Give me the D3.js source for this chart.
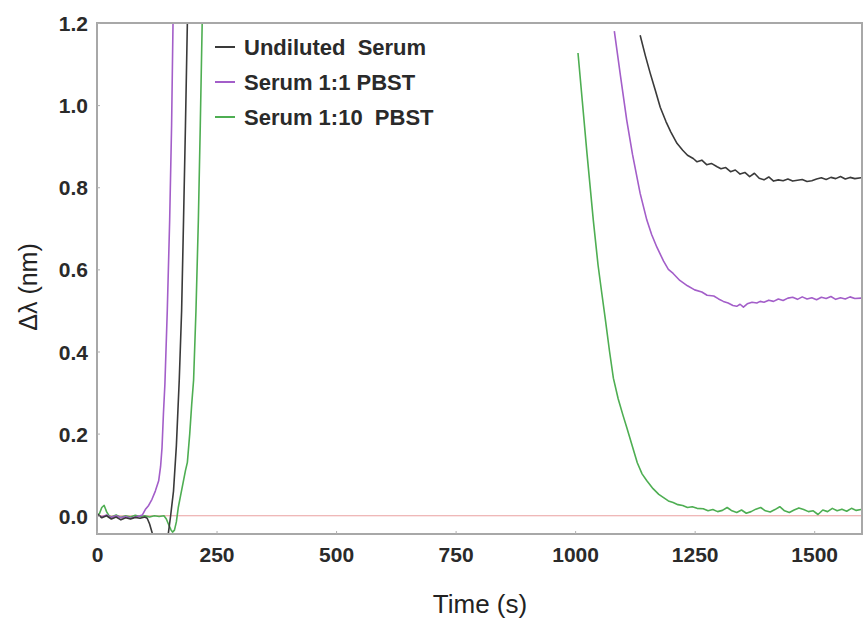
<!DOCTYPE html>
<html><head><meta charset="utf-8">
<script src="https://cdn.jsdelivr.net/npm/d3@7"></script>
<style>
body{margin:0;background:#fff;}
text{font-family:"Liberation Sans",Arial,sans-serif;}
</style></head>
<body><svg id="c" width="867" height="620"></svg>
<script>
// ---- data ----
const xTicks = [0,250,500,750,1000,1250,1500];
const yTicks = [0.0,0.2,0.4,0.6,0.8,1.0,1.2];
const seriesNames = ["Undiluted  Serum","Serum 1:1 PBST","Serum 1:10  PBST"];
const seriesColors = ["#3a3a3a","#a35ec9","#4eae52"];

const undilutedInjection = [[0,0.005],[5,0.0],[10,-0.005],[20,0.0],[30,-0.008],[40,-0.003],[50,-0.01],[60,-0.005],[70,-0.008],[80,-0.004],[90,-0.006],[100,-0.003],[105,-0.006],[110,-0.02],[115,-0.04],[120,-0.07],[130,-0.1],[140,-0.09],[149,-0.045],[154,0.0],[160,0.06],[166,0.17],[172,0.33],[177,0.5],[181,0.72],[185,0.95],[189,1.2],[191,1.3]];
const undilutedRinse = [[1136,1.17],[1147,1.12],[1157,1.078],[1168,1.035],[1178,0.995],[1190,0.96],[1200,0.935],[1213,0.907],[1225,0.89],[1235,0.878],[1247,0.87],[1255,0.862],[1265,0.866],[1275,0.855],[1285,0.858],[1297,0.85],[1305,0.845],[1315,0.848],[1325,0.838],[1335,0.842],[1345,0.832],[1355,0.836],[1365,0.826],[1375,0.834],[1385,0.822],[1395,0.818],[1405,0.825],[1415,0.815],[1425,0.818],[1435,0.816],[1445,0.82],[1455,0.815],[1465,0.817],[1475,0.819],[1485,0.814],[1495,0.816],[1505,0.82],[1515,0.823],[1525,0.819],[1535,0.824],[1545,0.821],[1555,0.826],[1565,0.82],[1575,0.824],[1585,0.821],[1598,0.823]];

const serum11Injection = [[0,0.003],[10,-0.003],[20,0.002],[30,-0.004],[40,0.0],[50,-0.005],[60,-0.002],[70,-0.006],[80,-0.003],[90,0.0],[95,0.002],[101,0.015],[108,0.025],[115,0.04],[122,0.06],[129,0.085],[133,0.12],[136,0.166],[139,0.25],[142,0.32],[147,0.5],[152,0.72],[156,0.95],[159,1.2],[161,1.3]];
const serum11Rinse = [[1082,1.18],[1095,1.07],[1108,0.963],[1120,0.88],[1136,0.785],[1150,0.72],[1160,0.685],[1171,0.654],[1185,0.62],[1195,0.6],[1205,0.59],[1219,0.573],[1235,0.56],[1250,0.55],[1265,0.545],[1276,0.537],[1290,0.535],[1300,0.528],[1310,0.522],[1320,0.518],[1330,0.512],[1338,0.51],[1345,0.515],[1352,0.508],[1360,0.516],[1370,0.52],[1380,0.518],[1387,0.522],[1395,0.52],[1405,0.525],[1415,0.522],[1425,0.528],[1435,0.524],[1445,0.53],[1455,0.532],[1465,0.527],[1475,0.533],[1485,0.528],[1495,0.531],[1505,0.526],[1515,0.532],[1525,0.529],[1535,0.534],[1545,0.527],[1555,0.531],[1565,0.528],[1575,0.533],[1585,0.529],[1598,0.53]];

const serum110Injection = [[0,0.0],[5,0.005],[10,0.02],[15,0.025],[20,0.01],[25,0.0],[30,-0.003],[40,0.002],[50,-0.004],[60,0.0],[70,-0.003],[80,0.001],[90,-0.002],[100,0.0],[110,-0.003],[120,0.0],[130,-0.002],[140,0.0],[145,-0.008],[150,-0.022],[155,-0.035],[158,-0.04],[162,-0.035],[166,-0.015],[170,0.02],[175,0.05],[180,0.08],[185,0.11],[189,0.13],[194,0.2],[198,0.27],[202,0.33],[207,0.5],[212,0.72],[216,0.95],[220,1.2],[222,1.3]];
const serum110Rinse = [[1006,1.127],[1015,1.01],[1025,0.88],[1038,0.72],[1048,0.61],[1056,0.54],[1063,0.48],[1072,0.4],[1080,0.335],[1090,0.285],[1100,0.245],[1108,0.215],[1120,0.168],[1130,0.129],[1140,0.102],[1150,0.085],[1163,0.066],[1175,0.052],[1185,0.044],[1195,0.036],[1205,0.032],[1215,0.027],[1225,0.025],[1235,0.02],[1245,0.022],[1255,0.018],[1268,0.017],[1278,0.012],[1288,0.015],[1298,0.01],[1308,0.013],[1318,0.02],[1328,0.012],[1338,0.008],[1348,0.014],[1358,0.006],[1368,0.01],[1378,0.016],[1388,0.02],[1398,0.012],[1408,0.009],[1418,0.015],[1428,0.022],[1438,0.012],[1448,0.008],[1458,0.014],[1468,0.019],[1478,0.015],[1488,0.01],[1498,0.012],[1508,0.003],[1518,0.014],[1528,0.01],[1538,0.018],[1548,0.012],[1558,0.016],[1568,0.011],[1578,0.018],[1588,0.013],[1598,0.015]];

const seriesParts = [
  [undilutedInjection, undilutedRinse],
  [serum11Injection, serum11Rinse],
  [serum110Injection, serum110Rinse]
];

// ---- layout ----
const L = 97, R = 862, T = 23, B = 534;
const svg = d3.select("#c");
const x = d3.scaleLinear().domain([0,1600]).range([L,R]);
const y = d3.scaleLinear().domain([-0.0445,1.2]).range([B,T]);

svg.append("defs").append("clipPath").attr("id","clip")
  .append("rect").attr("x",L).attr("y",T).attr("width",R-L).attr("height",B-T);

// zero reference line
svg.append("line").attr("x1",L).attr("x2",R).attr("y1",y(0)).attr("y2",y(0))
  .attr("stroke","#eaa0a0").attr("stroke-width",1.2);

const line = d3.line().x(d=>x(d[0])).y(d=>y(d[1]));
const g = svg.append("g").attr("clip-path","url(#clip)");
[2,1,0].forEach(i=>{
  seriesParts[i].forEach(part=>{
    g.append("path").datum(part).attr("d",line).attr("fill","none")
      .attr("stroke",seriesColors[i]).attr("stroke-width",1.6).attr("stroke-linejoin","round");
  });
});

// frame
svg.append("rect").attr("x",L).attr("y",T).attr("width",R-L).attr("height",B-T)
  .attr("fill","none").attr("stroke","#a8a8a8").attr("stroke-width",2);

// axes
const xAxis = d3.axisBottom(x).tickValues(xTicks).tickSize(-3).tickPadding(13).tickFormat(d3.format("d"));
const yAxis = d3.axisLeft(y).tickValues(yTicks).tickSize(-3).tickPadding(9).tickFormat(d3.format(".1f"));
const gx = svg.append("g").attr("transform",`translate(0,${B})`).call(xAxis);
const gy = svg.append("g").attr("transform",`translate(${L},0)`).call(yAxis);
[gx,gy].forEach(a=>{
  a.select(".domain").remove();
  a.selectAll(".tick line").attr("stroke","#b0b0b0");
  a.selectAll("text").attr("font-size",21).attr("font-weight","bold").attr("fill","#2a2a2a")
    .attr("font-family","'Liberation Sans',Arial,sans-serif");
});
gy.selectAll(".tick text").attr("dy","0.36em");

// axis titles
svg.append("text").attr("x",480).attr("y",613).attr("text-anchor","middle")
  .attr("font-size",26).attr("fill","#222").text("Time (s)");
svg.append("text").attr("transform","translate(37,287) rotate(-90)").attr("text-anchor","middle")
  .attr("font-size",25).attr("fill","#222").text("Δλ (nm)");

// legend
const lg = svg.append("g");
seriesNames.forEach((n,i)=>{
  const yy = 47 + i*35;
  lg.append("line").attr("x1",215).attr("x2",235).attr("y1",yy).attr("y2",yy)
    .attr("stroke",seriesColors[i]).attr("stroke-width",2);
  lg.append("text").attr("x",244).attr("y",yy).attr("dy","0.36em")
    .attr("font-size",22).attr("font-weight","bold").attr("fill","#2a2a2a")
    .style("white-space","pre").text(n);
});
</script></body></html>
